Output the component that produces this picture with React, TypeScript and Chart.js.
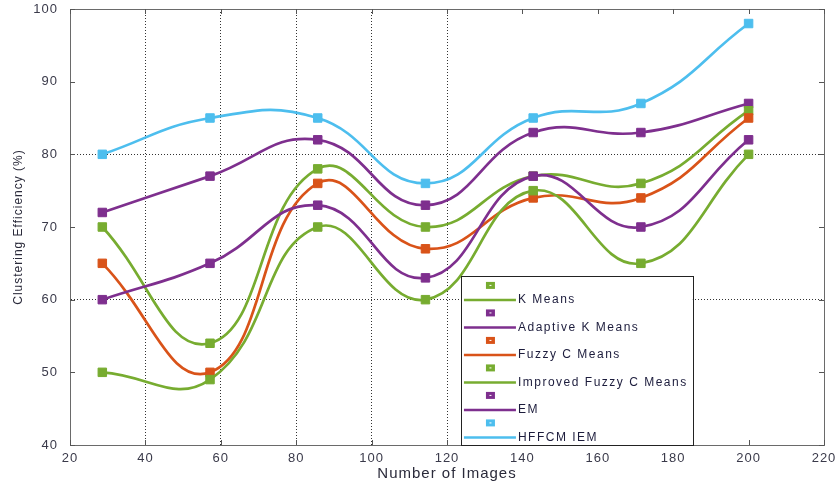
import React, { useEffect, useRef } from "react";
import { Chart, registerables } from "chart.js";

Chart.register(...registerables);

const xValues = [28.57, 57.14, 85.71, 114.29, 142.86, 171.43, 200];
const seriesNames = ["K Means", "Adaptive K Means", "Fuzzy C Means", "Improved Fuzzy C Means", "EM", "HFFCM IEM"];
const kMeans = [50, 49, 70, 60, 75, 65, 80];
const adaptiveKMeans = [60, 65, 73, 63, 77, 70, 82];
const fuzzyCMeans = [65, 50, 76, 67, 74, 74, 85];
const improvedFuzzyCMeans = [70, 54, 78, 70, 77, 76, 86];
const em = [72, 77, 82, 73, 83, 83, 87];
const hffcmIem = [80, 85, 85, 76, 85, 87, 98];
const seriesColors = ["#77AC30", "#7E2F8E", "#D95319", "#77AC30", "#7E2F8E", "#4DBEEE"];
const xGridValues = [40, 60, 80, 100, 120];
const yGridValues = [60, 80];

const allSeries = [kMeans, adaptiveKMeans, fuzzyCMeans, improvedFuzzyCMeans, em, hffcmIem];
const FONT = "'Liberation Sans', Arial, sans-serif";

const frameAndLegend = {
  id: "frameAndLegend",
  beforeDraw(chart: any) {
    (chart.ctx as any).letterSpacing = "1px";
  },
  afterDraw(chart: any) {
    const { ctx, chartArea: a, scales } = chart;
    const xs = scales.x;
    const ys = scales.y;
    ctx.save();
    ctx.strokeStyle = "#6a6a6a";
    ctx.lineWidth = 1;
    ctx.strokeRect(Math.round(a.left) + 0.5, Math.round(a.top) + 0.5, Math.round(a.right - a.left), Math.round(a.bottom - a.top));
    ctx.strokeStyle = "#555";
    ctx.beginPath();
    for (let v = 20; v <= 220; v += 20) {
      const px = Math.round(xs.getPixelForValue(v)) + 0.5;
      ctx.moveTo(px, a.bottom);
      ctx.lineTo(px, a.bottom - 5);
      ctx.moveTo(px, a.top);
      ctx.lineTo(px, a.top + 5);
    }
    for (let v = 40; v <= 100; v += 10) {
      const py = Math.round(ys.getPixelForValue(v)) + 0.5;
      ctx.moveTo(a.left, py);
      ctx.lineTo(a.left + 5, py);
      ctx.moveTo(a.right, py);
      ctx.lineTo(a.right - 5, py);
    }
    ctx.stroke();
    // legend
    const lx = xs.getPixelForValue(123.7);
    const rx = xs.getPixelForValue(185.2);
    const ty = ys.getPixelForValue(63.2);
    const by = a.bottom;
    ctx.fillStyle = "#ffffff";
    ctx.fillRect(lx, ty, rx - lx, by - ty);
    ctx.strokeStyle = "#222";
    ctx.lineWidth = 1;
    ctx.strokeRect(Math.round(lx) + 0.5, Math.round(ty) + 0.5, Math.round(rx - lx), Math.round(by - ty));
    ctx.font = "12px " + FONT;
    ctx.letterSpacing = "1.5px";
    ctx.textBaseline = "middle";
    ctx.textAlign = "left";
    chart.data.datasets.forEach((ds: any, i: number) => {
      const my = ty + 9 + i * 27.5;
      const lineY = my + 14.5;
      ctx.fillStyle = ds.borderColor;
      ctx.fillRect(lx + 25, my - 3.5, 9, 7);
      ctx.fillStyle = "#ffffff";
      ctx.fillRect(lx + 28.5, my - 0.5, 2, 1);
      ctx.strokeStyle = ds.borderColor;
      ctx.lineWidth = 2.5;
      ctx.beginPath();
      ctx.moveTo(lx + 3, lineY);
      ctx.lineTo(lx + 55, lineY);
      ctx.stroke();
      ctx.fillStyle = "#1c1c3c";
      ctx.fillText(ds.label, lx + 57, lineY);
    });
    ctx.restore();
  },
};

export default function App() {
  const ref = useRef<HTMLCanvasElement | null>(null);
  useEffect(() => {
    document.body.style.margin = "0";
    const canvas = ref.current;
    if (!canvas) return;
    const tickFont = { family: FONT, size: 13 };
    const chart = new Chart(canvas, {
      type: "line",
      data: {
        datasets: allSeries.map((vals, i) => ({
          label: seriesNames[i],
          data: vals.map((y, j) => ({ x: xValues[j], y })),
          borderColor: seriesColors[i],
          backgroundColor: seriesColors[i],
          pointBackgroundColor: seriesColors[i],
          pointBorderColor: seriesColors[i],
          pointStyle: "rect",
          pointRadius: 6,
          pointBorderWidth: 1,
          borderWidth: 2.7,
          tension: 0.45,
          fill: false,
        })),
      },
      options: {
        animation: false,
        responsive: false,
        maintainAspectRatio: false,
        layout: { padding: { left: 0, right: 12, top: 9, bottom: 0 } },
        plugins: { legend: { display: false }, tooltip: { enabled: false } },
        scales: {
          x: {
            type: "linear",
            min: 20,
            max: 220,
            afterFit: (s: any) => { s.height = 41; s.paddingLeft = 0; s.paddingRight = 0; },
            ticks: { stepSize: 20, color: "#3a3a4a", font: tickFont, padding: 6 },
            grid: {
              drawTicks: false,
              color: (c: any) => (c.tick && xGridValues.includes(c.tick.value) ? "#333" : "rgba(0,0,0,0)"),
              lineWidth: 1,
            },
            border: { display: true, color: "#6a6a6a", dash: [1, 2] },
            title: {
              display: true,
              text: "Number of Images",
              color: "#2a2a3a",
              font: { family: FONT, size: 15 },
              padding: { top: 0, bottom: 3 },
            },
          },
          y: {
            type: "linear",
            min: 40,
            max: 100,
            afterFit: (s: any) => { s.width = 70; s.paddingTop = 0; s.paddingBottom = 0; },
            ticks: { stepSize: 10, color: "#3a3a4a", font: tickFont, padding: 12 },
            grid: {
              drawTicks: false,
              color: (c: any) => (c.tick && yGridValues.includes(c.tick.value) ? "#333" : "rgba(0,0,0,0)"),
              lineWidth: 1,
            },
            border: { display: true, color: "#6a6a6a", dash: [1, 2] },
            title: {
              display: true,
              text: "Clustering Efficiency (%)",
              color: "#2a2a3a",
              font: { family: FONT, size: 12 },
              padding: { top: 11, bottom: 0 },
            },
          },
        },
      },
      plugins: [frameAndLegend],
    });
    return () => chart.destroy();
  }, []);
  return <canvas ref={ref} width={836} height={486} style={{ display: "block" }} />;
}
